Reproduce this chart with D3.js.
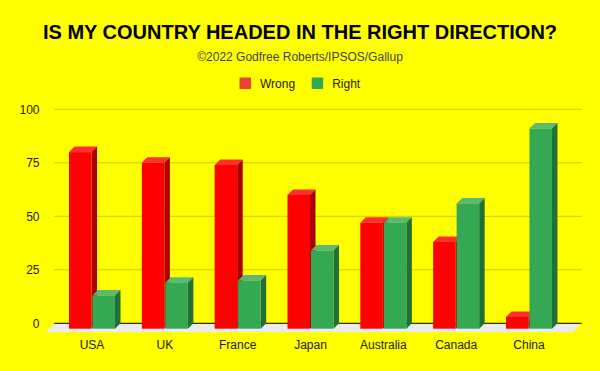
<!DOCTYPE html>
<html>
<head>
<meta charset="utf-8">
<script src="https://cdn.jsdelivr.net/npm/d3@7"></script>
<style>
  body { margin: 0; background: #ffff00; }
  svg { display: block; font-family: "Liberation Sans", Arial, sans-serif; }
</style>
</head>
<body>
<script>
const countries = ['USA', 'UK', 'France', 'Japan', 'Australia', 'Canada', 'China'];
const wrong = [80, 75, 74, 60, 47, 38, 3];
const right = [13, 19, 20, 34, 47, 56, 91];
const seriesNames = ['Wrong', 'Right'];
const yTicks = [0, 25, 50, 75, 100];

const width = 600, height = 371;
const depth = 5.5;
const front = {
    Wrong: { face: '#ff0000', top: '#ff3030', side: '#aa0000', legend: '#ea4335' },
    Right: { face: '#34a853', top: '#5cb874', side: '#236f38', legend: '#34a853' }
};

const data = countries.map((c, i) => ({ country: c, Wrong: wrong[i], Right: right[i] }));

const svg = d3.select('body').append('svg')
    .attr('width', width)
    .attr('height', height);

svg.append('rect').attr('width', width).attr('height', height).attr('fill', '#ffff00');

// titles
svg.append('text')
    .attr('x', 300).attr('y', 39)
    .attr('text-anchor', 'middle')
    .style('font-size', '20px').style('font-weight', 'bold')
    .attr('fill', '#000')
    .text('IS MY COUNTRY HEADED IN THE RIGHT DIRECTION?');

svg.append('text')
    .attr('x', 300).attr('y', 61)
    .attr('text-anchor', 'middle')
    .style('font-size', '12px')
    .attr('fill', '#444')
    .text('\u00a92022 Godfree Roberts/IPSOS/Gallup');

// legend
const legendX = [239.5, 311.7];
seriesNames.forEach((s, i) => {
    svg.append('rect')
        .attr('x', legendX[i]).attr('y', 77.5)
        .attr('width', 11.5).attr('height', 11.5)
        .attr('fill', front[s].legend);
    svg.append('text')
        .attr('x', legendX[i] + 20.5).attr('y', 87.5)
        .style('font-size', '12px')
        .attr('fill', '#222')
        .text(s);
});

// scales
const y = d3.scaleLinear().domain([0, 100]).range([323.3, 109.3]);
const x = d3.scaleBand().domain(countries).range([55.6, 565.4]);
const groupW = x.bandwidth() * 0.632;
const xs = d3.scaleBand().domain(seriesNames).range([0, groupW]).paddingInner(0.04);

const backLeft = 54.3, backRight = 581.7;
const floorFront = 332.3;
const barBottom = 328.7;

// gridlines
svg.append('g').selectAll('line')
    .data(yTicks.filter(t => t > 0))
    .enter().append('line')
    .attr('x1', backLeft).attr('x2', backRight)
    .attr('y1', d => y(d)).attr('y2', d => y(d))
    .attr('stroke', '#cccc00').attr('stroke-width', 1);

// y labels
svg.append('g').selectAll('text')
    .data(yTicks)
    .enter().append('text')
    .attr('x', 39.5)
    .attr('y', d => y(d) + 4.3)
    .attr('text-anchor', 'end')
    .style('font-size', '12px')
    .attr('fill', '#222')
    .text(d => d);

// floor
const fd = floorFront - y(0);
svg.append('path')
    .attr('d', `M${backLeft + 0.7},${y(0)} L${backRight},${y(0)} L${backRight - fd},${floorFront} L${backLeft - 8.3},${floorFront} Z`)
    .attr('fill', '#ebebeb');

svg.append('line')
    .attr('x1', backLeft).attr('x2', backRight)
    .attr('y1', y(0)).attr('y2', y(0))
    .attr('stroke', '#000').attr('stroke-width', 1);

// bars
const groups = svg.append('g').selectAll('g')
    .data(data)
    .enter().append('g')
    .attr('transform', d => `translate(${x(d.country) + (x.bandwidth() - groupW) / 2},0)`);

seriesNames.forEach(s => {
    const bw = xs.bandwidth();
    const bx = xs(s);
    groups.append('path')
        .attr('d', d => {
            const yt = y(d[s]);
            return `M${bx},${yt} L${bx + bw},${yt} L${bx + bw + depth},${yt - depth} L${bx + depth},${yt - depth} Z`;
        })
        .attr('fill', front[s].top);
    groups.append('path')
        .attr('d', d => {
            const yt = y(d[s]);
            return `M${bx + bw},${yt} L${bx + bw + depth},${yt - depth} L${bx + bw + depth},${barBottom - depth} L${bx + bw},${barBottom} Z`;
        })
        .attr('fill', front[s].side);
    groups.append('rect')
        .attr('x', bx)
        .attr('y', d => y(d[s]))
        .attr('width', bw)
        .attr('height', d => barBottom - y(d[s]))
        .attr('fill', front[s].face);
});

// x labels
svg.append('g').selectAll('text')
    .data(countries)
    .enter().append('text')
    .attr('x', d => x(d) + x.bandwidth() / 2)
    .attr('y', 349)
    .attr('text-anchor', 'middle')
    .style('font-size', '12px')
    .attr('fill', '#222')
    .text(d => d);
</script>
</body>
</html>
